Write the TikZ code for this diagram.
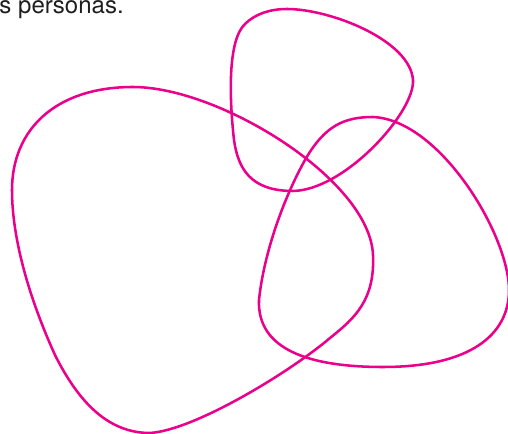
\documentclass[tikz,border=0pt]{standalone}
\usepackage{fontspec}
\setmainfont{TeX Gyre Heros}
\definecolor{blobpink}{RGB}{234,0,138}
\definecolor{textgray}{RGB}{30,30,30}
\tikzset{every picture/.style={line width=0.75pt}}
\tikzset{
blob/.style={draw=blobpink, line width=1.9pt, line join=round},
caption/.style={text=textgray, inner sep=0pt, font=\fontsize{18}{20}\selectfont}}

\begin{document}
\begin{tikzpicture}[x=0.75pt,y=0.75pt,yscale=-1,xscale=1]
\useasboundingbox (0,0) rectangle (508,434);
\clip (0,0) rectangle (508,434);

%Shape: Polygon Curved [top]
\draw [blob] (287,9) .. controls (330,9) and (410,40) .. (413,80) .. controls (415,112) and (345,190) .. (293,191) .. controls (250,191) and (238,168) .. (234,140) .. controls (229,95) and (228,40) .. (245,24) .. controls (255,14) and (270,9) .. (287,9) -- cycle ;
%Shape: Polygon Curved [left]
\draw [blob] (133,87) .. controls (220,87) and (370,180) .. (373,255) .. controls (375,300) and (355,318) .. (330,338) .. controls (290,372) and (195,430) .. (150,433) .. controls (110,433) and (80,405) .. (55,355) .. controls (30,300) and (12,240) .. (12,190) .. controls (12,130) and (55,87) .. (133,87) -- cycle ;
%Shape: Polygon Curved [right]
\draw [blob] (373,117) .. controls (440,120) and (509,235) .. (509,290) .. controls (509,335) and (470,367) .. (383,367) .. controls (310,367) and (257,350) .. (259,300) .. controls (263,260) and (280,205) .. (305,160) .. controls (325,125) and (345,117) .. (373,117) -- cycle ;

% Text Node
\node [caption, anchor=base west] (lbl) at (-1,14) {s personas.};
\end{tikzpicture}
\end{document}
